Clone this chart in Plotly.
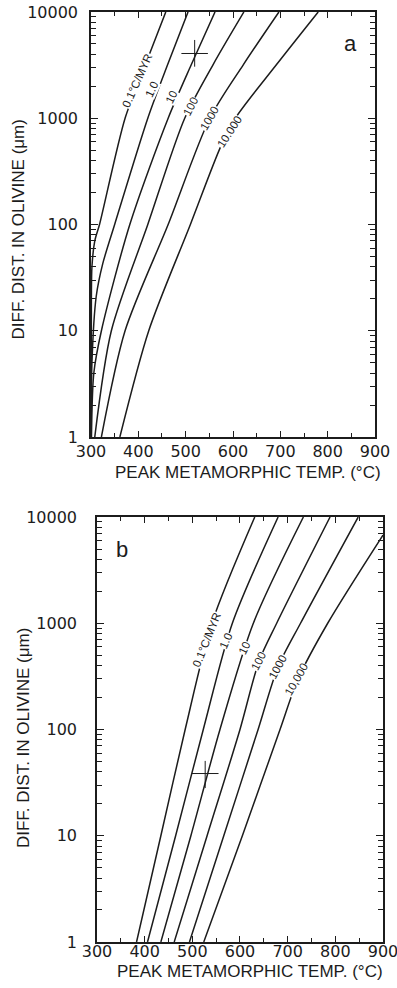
import math
import plotly.graph_objects as go

# Cooling-rate labels for the six curves
rate_labels_a = ["0.1°C/MYR", "1.0", "10", "100", "1000", "10.000"]
rate_labels_b = ["0.1°C/MYR", "1.0", "10", "100", "1000", "10,000"]

# Panel a: peak temperature (°C) vs. diffusion distance (µm)
a_T_r01 = [300.3, 300.8, 302, 308, 318, 372, 415, 458]
a_D_r01 = [1, 20, 40, 70, 100, 1000, 3200, 10000]
a_T_r1 = [300.5, 302, 311, 325, 350, 420, 462, 505]
a_D_r1 = [1, 5, 21, 43, 100, 1000, 3200, 10000]
a_T_r10 = [301, 306, 322, 382, 463, 512, 562]
a_D_r10 = [1, 4, 10, 100, 1000, 3200, 10000]
a_T_r100 = [308, 343, 420, 498, 558, 623]
a_D_r100 = [1, 10, 100, 1000, 3200, 10000]
a_T_r1000 = [322, 372, 463, 551, 622, 697]
a_D_r1000 = [1, 10, 100, 1000, 3200, 10000]
a_T_r10000 = [361, 422, 510, 574, 605, 692, 780]
a_D_r10000 = [1, 10, 100, 540, 1000, 3200, 10000]

# Panel b
b_T_r01 = [383, 434, 485, 541, 631]
b_D_r01 = [1, 10, 100, 1000, 10000]
b_T_r1 = [406, 465, 523, 584, 680]
b_D_r1 = [1, 10, 100, 1000, 10000]
b_T_r10 = [434, 497, 558, 628, 733]
b_D_r10 = [1, 10, 100, 1000, 10000]
b_T_r100 = [462, 531, 600, 640, 677, 789]
b_D_r100 = [1, 10, 100, 440, 1000, 10000]
b_T_r1000 = [494, 566, 638, 680, 727, 848]
b_D_r1000 = [1, 10, 100, 390, 1000, 10000]
b_T_r10000 = [524, 605, 684, 722, 784, 900]
b_D_r10000 = [1, 10, 100, 300, 1000, 6760]

# Sample estimates (temperature ± error, distance range)
a_sample_T, a_sample_Terr = 519, 28
a_sample_D, a_sample_Dlo, a_sample_Dhi = 4065, 3055, 5450
b_sample_T, b_sample_Terr = 527, 28
b_sample_D, b_sample_Dlo, b_sample_Dhi = 38.5, 28.1, 50.6

# Curve label anchor points (T, D) and text angles
a_label_T = [398, 429, 470, 511, 551, 592]
a_label_D = [2290, 1870, 1585, 1300, 995, 742]
a_label_ang = [66, 65, 64, 63, 60, 57]
b_label_T = [530, 570, 609, 639, 679, 719]
b_label_D = [695, 681, 585, 441, 387, 296]
b_label_ang = [68, 66, 64, 63, 62, 60]

x_major = [300, 400, 500, 600, 700, 800, 900]
x_minor = [350, 450, 550, 650, 750, 850]
y_major = [1, 10, 100, 1000, 10000]
y_minor = [m * 10 ** e for e in range(4) for m in range(2, 10)]

FONT = "Liberation Sans, Arial, Helvetica, sans-serif"
TICKFONT = "DejaVu Sans, Liberation Sans, sans-serif"
INK = "#1c1c1c"

fig = go.Figure()

curves_a = [(a_T_r01, a_D_r01), (a_T_r1, a_D_r1), (a_T_r10, a_D_r10),
            (a_T_r100, a_D_r100), (a_T_r1000, a_D_r1000), (a_T_r10000, a_D_r10000)]
curves_b = [(b_T_r01, b_D_r01), (b_T_r1, b_D_r1), (b_T_r10, b_D_r10),
            (b_T_r100, b_D_r100), (b_T_r1000, b_D_r1000), (b_T_r10000, b_D_r10000)]

for T, D in curves_a:
    fig.add_trace(go.Scatter(x=T, y=D, mode="lines", xaxis="x", yaxis="y",
                             line=dict(color=INK, width=1.5, shape="spline", smoothing=0.8),
                             showlegend=False, hoverinfo="skip"))
for T, D in curves_b:
    fig.add_trace(go.Scatter(x=T, y=D, mode="lines", xaxis="x2", yaxis="y2",
                             line=dict(color=INK, width=1.5, shape="spline", smoothing=0.8),
                             showlegend=False, hoverinfo="skip"))

# Sample crosses
for (t, te, d, dlo, dhi, xa, ya) in [
        (a_sample_T, a_sample_Terr, a_sample_D, a_sample_Dlo, a_sample_Dhi, "x", "y"),
        (b_sample_T, b_sample_Terr, b_sample_D, b_sample_Dlo, b_sample_Dhi, "x2", "y2")]:
    fig.add_trace(go.Scatter(
        x=[t], y=[d], mode="markers", xaxis=xa, yaxis=ya,
        marker=dict(size=1, color=INK),
        error_x=dict(type="constant", value=te, thickness=1, width=0, color=INK),
        error_y=dict(type="data", symmetric=False, array=[dhi - d], arrayminus=[d - dlo],
                     thickness=1, width=0, color=INK),
        showlegend=False, hoverinfo="skip"))

annotations = []
for txt, t, d, ang in zip(rate_labels_a, a_label_T, a_label_D, a_label_ang):
    annotations.append(dict(x=t, y=math.log10(d), xref="x", yref="y", text=txt,
                            textangle=-ang, showarrow=False, bgcolor="white", borderpad=0,
                            xanchor="center", yanchor="middle",
                            font=dict(family=FONT, size=11.5, color=INK)))
for txt, t, d, ang in zip(rate_labels_b, b_label_T, b_label_D, b_label_ang):
    annotations.append(dict(x=t, y=math.log10(d), xref="x2", yref="y2", text=txt,
                            textangle=-ang, showarrow=False, bgcolor="white", borderpad=0,
                            xanchor="center", yanchor="middle",
                            font=dict(family=FONT, size=11.5, color=INK)))

# Panel letters
annotations.append(dict(x=849, y=math.log10(5000), xref="x", yref="y", text="a",
                        showarrow=False, xanchor="center", yanchor="middle",
                        font=dict(family=FONT, size=22, color=INK)))
annotations.append(dict(x=353, y=math.log10(5000), xref="x2", yref="y2", text="b",
                        showarrow=False, xanchor="center", yanchor="middle",
                        font=dict(family=FONT, size=22, color=INK)))

# Axis titles
xtitle = "PEAK METAMORPHIC TEMP. (°C)"
ytitle = "DIFF. DIST. IN OLIVINE (μm)"
for (x, y, ang) in [(0.6247, 0.5213, 0), (0.6297, 0.0165, 0),
                    (0.0466, 0.7672, -90), (0.0579, 0.2530, -90)]:
    annotations.append(dict(x=x, y=y, xref="paper", yref="paper",
                            text=xtitle if ang == 0 else ytitle, showarrow=False,
                            textangle=ang, xanchor="center", yanchor="middle",
                            font=dict(family=FONT, size=17, color=INK)))


def xaxis(domain, anchor, standoff):
    return dict(domain=domain, anchor=anchor, range=[300, 900], showgrid=False, zeroline=False,
                automargin=False, ticklabeloverflow="allow",
                showline=True, linecolor=INK, linewidth=1.5, mirror="ticks",
                ticks="inside", ticklen=6, tickwidth=1, tickcolor=INK,
                tickvals=x_major, ticktext=[str(v) for v in x_major],
                ticklabelstandoff=standoff,
                tickfont=dict(family=TICKFONT, size=16, color=INK),
                minor=dict(ticks="inside", tickvals=x_minor, ticklen=4, tickwidth=1, tickcolor=INK))


def yaxis(domain, anchor, standoff):
    return dict(domain=domain, anchor=anchor, type="log", range=[0, 4], showgrid=False,
                zeroline=False, automargin=False, ticklabeloverflow="allow",
                showline=True, linecolor=INK, linewidth=1.5, mirror="ticks",
                ticks="inside", ticklen=7, tickwidth=1, tickcolor=INK,
                tickvals=y_major, ticktext=[str(v) for v in y_major],
                ticklabelstandoff=standoff,
                tickfont=dict(family=TICKFONT, size=16, color=INK),
                minor=dict(ticks="inside", tickvals=y_minor, ticklen=5, tickwidth=1, tickcolor=INK))


fig.update_layout(
    width=397, height=988, autosize=False,
    margin=dict(l=0, r=0, t=0, b=0, autoexpand=False),
    paper_bgcolor="white", plot_bgcolor="white",
    xaxis=xaxis([0.2292, 0.9446], "y", -1),
    yaxis=yaxis([0.5577, 0.9879], "x", 8),
    xaxis2=xaxis([0.2443, 0.9647], "y2", -6),
    yaxis2=yaxis([0.0466, 0.4767], "x2", 15),
    annotations=annotations,
    showlegend=False,
)

fig.write_html("out.html")
